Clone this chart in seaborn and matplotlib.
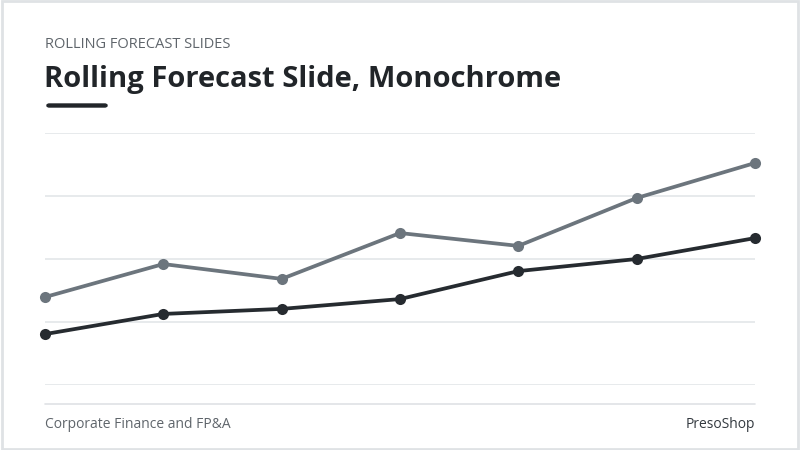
import matplotlib
matplotlib.use("Agg")
import matplotlib.pyplot as plt
import seaborn as sns
import pandas as pd
from matplotlib.patches import Rectangle, FancyBboxPatch

periods = ["P1", "P2", "P3", "P4", "P5", "P6", "P7"]
forecast = [34.9, 48.0, 42.1, 60.3, 55.2, 74.2, 88.1]
actual = [20.2, 28.2, 30.2, 34.1, 45.2, 50.0, 58.3]

sns.set_style("white")
plt.rcParams['font.family'] = ['Open Sans', 'DejaVu Sans']

fig = plt.figure(figsize=(8, 4.5), dpi=100)
fig.patch.set_facecolor("white")
fig.patches.append(Rectangle((0.002, 0.003), 0.996, 0.994, transform=fig.transFigure,
                             fill=False, edgecolor="#dfe2e5", linewidth=2))

W, H = 800, 450
ax = fig.add_axes([45/W, (H-385)/H, 710/W, 252/H])
df = pd.DataFrame({"x": list(range(len(periods))) * 2,
                   "v": forecast + actual,
                   "s": ["f"] * 7 + ["a"] * 7})
sns.lineplot(data=df, x="x", y="v", hue="s", palette={"f": "#6c757d", "a": "#262b30"},
             marker="o", markersize=8, markeredgewidth=0, linewidth=2.7, legend=False, ax=ax, clip_on=False)
ax.set_xlim(0, 6)
ax.set_ylim(0, 100)
for y in [0, 25, 50, 75, 100]:
    ax.axhline(y, color="#e3e6e9", linewidth=1.2, zorder=0)
ax.set_xticks([]); ax.set_yticks([])
ax.set_xlabel(""); ax.set_ylabel("")
for s in ax.spines.values():
    s.set_visible(False)

fig.text(45/W, 1-45/H, "ROLLING FORECAST SLIDES", fontsize=10.5, color="#5f656b", va="center")
fig.text(44/W, 1-80/H, "Rolling Forecast Slide, Monochrome", fontsize=21, fontweight="bold",
         color="#212529", va="center")
fig.patches.append(FancyBboxPatch((47/W, 1-107/H), 60/W, 3/H, transform=fig.transFigure,
                                  boxstyle="round,pad=0,rounding_size=0.003",
                                  facecolor="#212529", edgecolor="#212529", linewidth=1))
fig.add_artist(plt.Line2D([45/W, 755/W], [1-404/H, 1-404/H], color="#dfe2e5", linewidth=1.2,
                          transform=fig.transFigure))
fig.text(45/W, 1-425/H, "Corporate Finance and FP&A", fontsize=10, color="#5f656b", va="center")
fig.text(755/W, 1-425/H, "PresoShop", fontsize=10, color="#343a40", va="center", ha="right")

fig.savefig("out.png", dpi=100)
